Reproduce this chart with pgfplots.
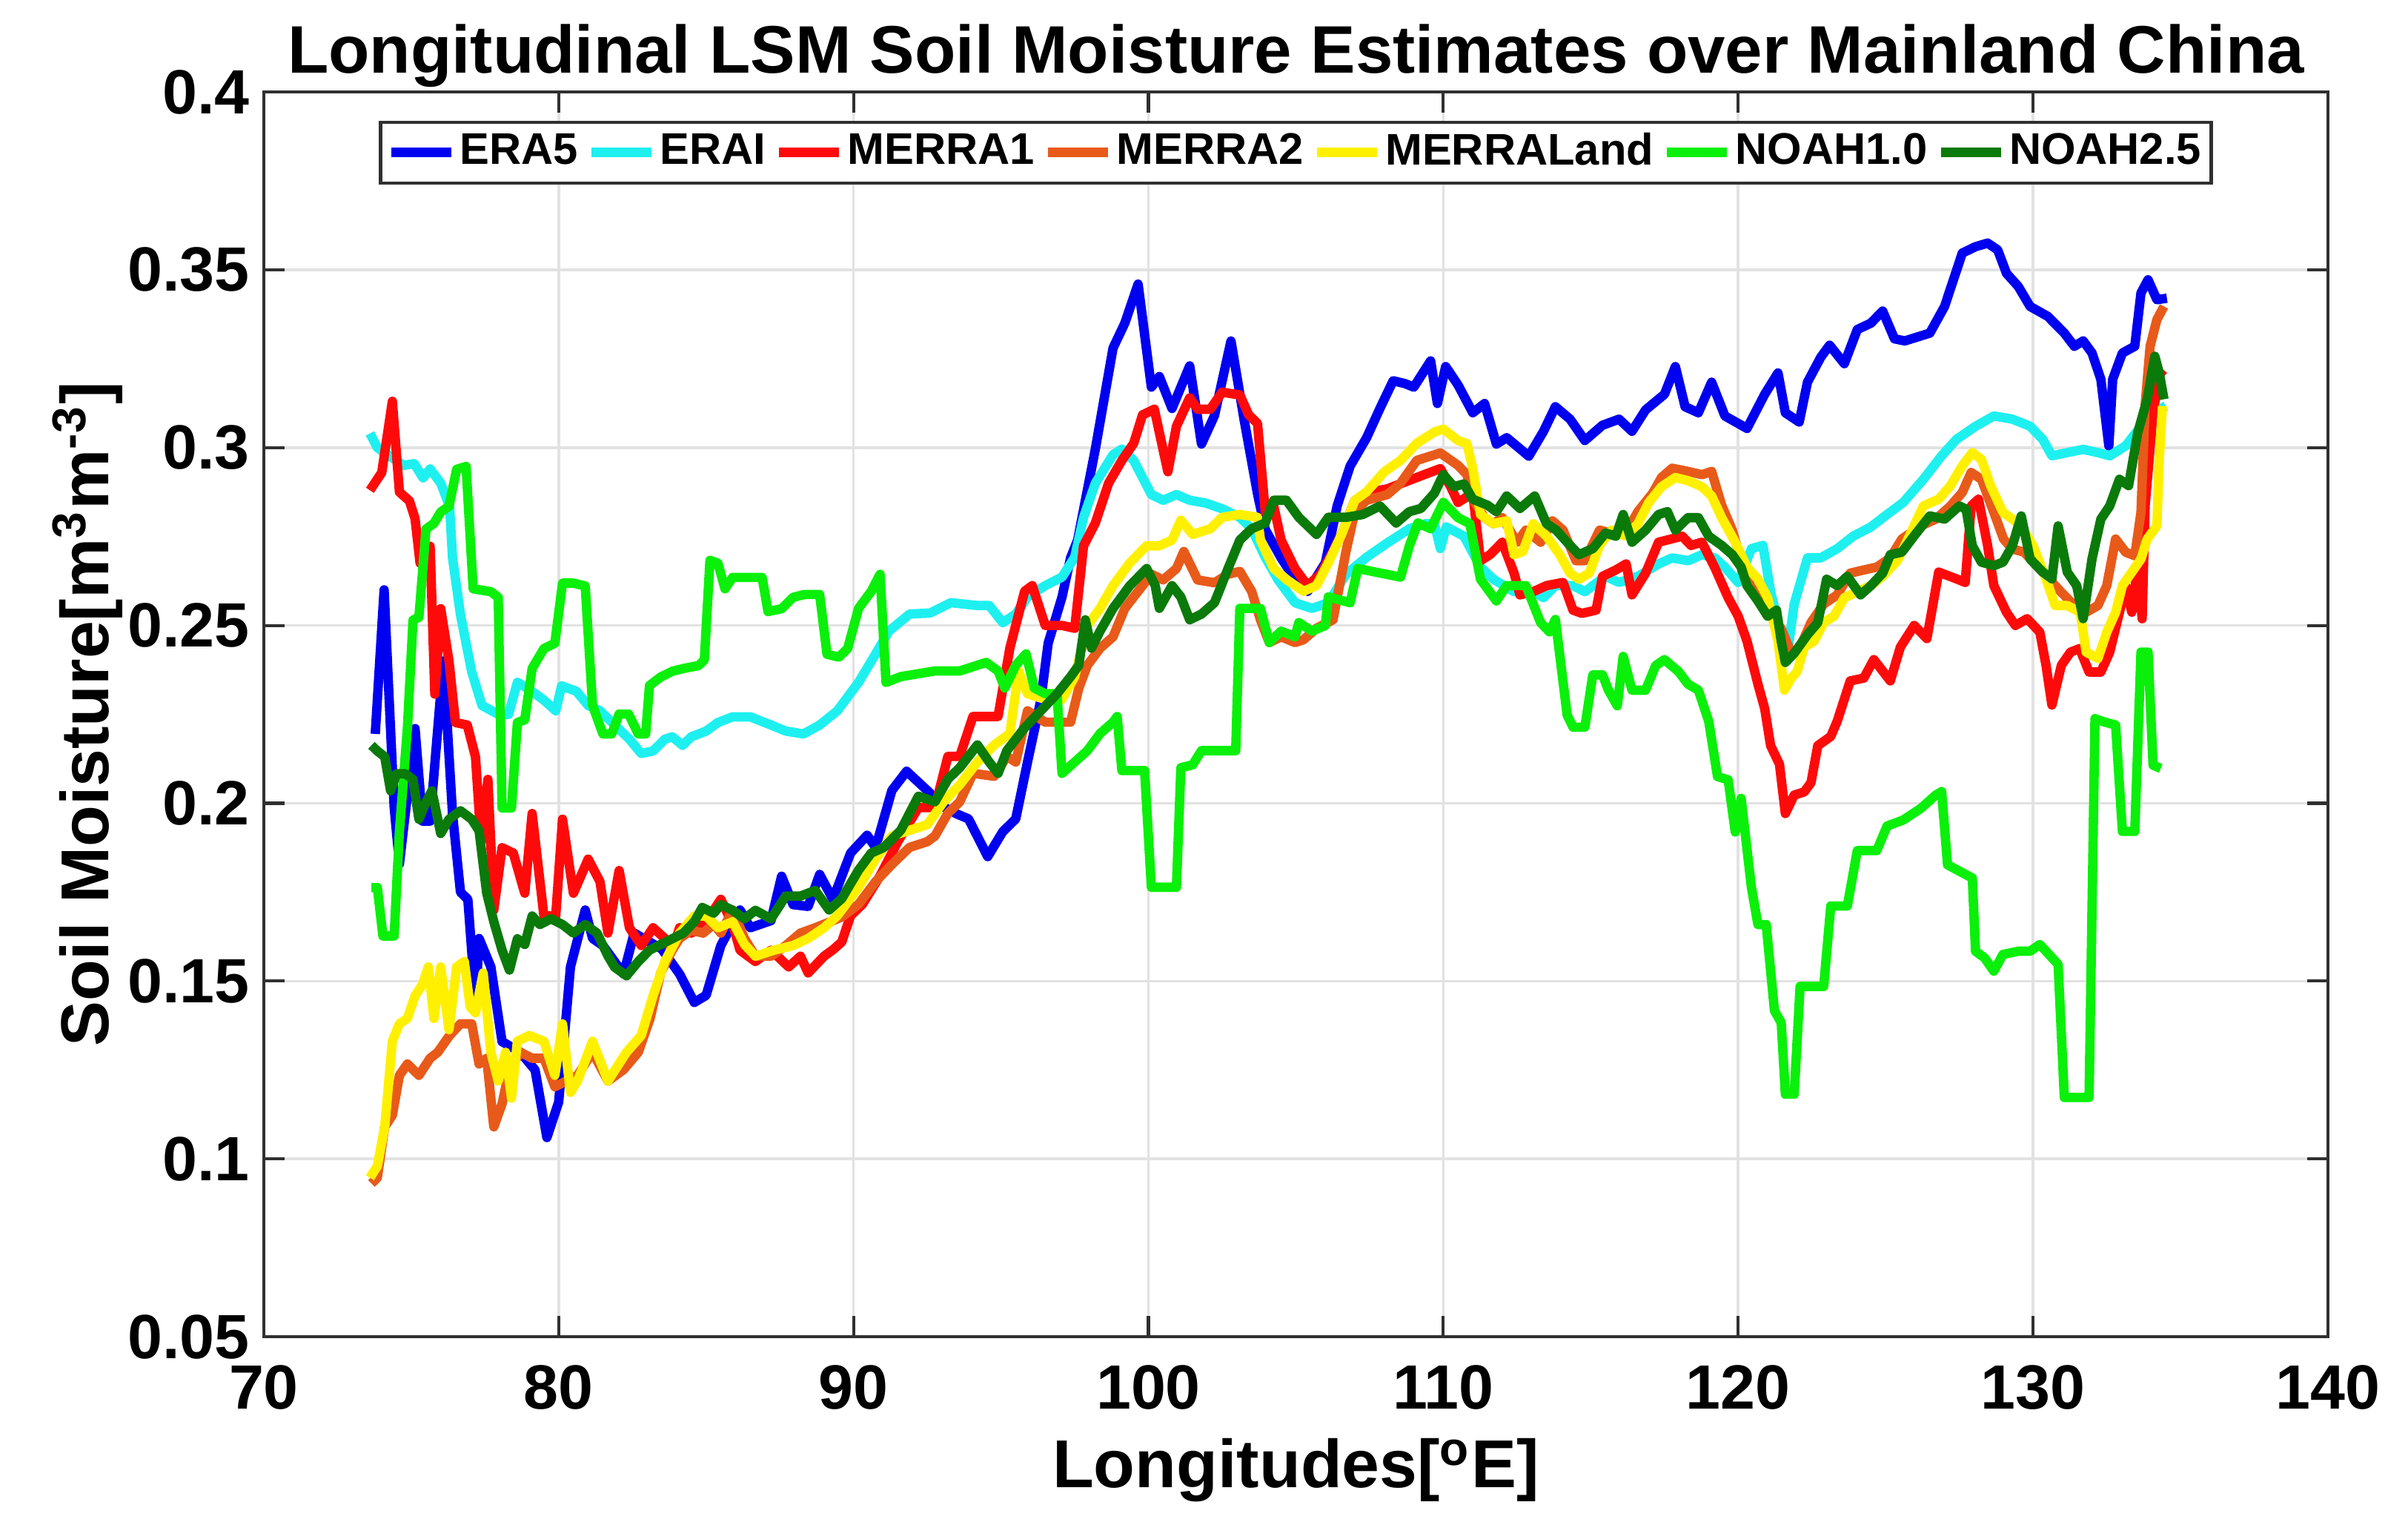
\documentclass[border=0pt]{standalone}
\usepackage{fontspec}
\setmainfont{Liberation Sans}
\usepackage{pgfplots}
\pgfplotsset{compat=1.18}
\definecolor{cEraFive}{HTML}{0000F0}
\definecolor{cEraI}{HTML}{1EF0F0}
\definecolor{cMerraOne}{HTML}{FF0A0A}
\definecolor{cMerraTwo}{HTML}{E85A1A}
\definecolor{cMerraLand}{HTML}{FFF000}
\definecolor{cNoahOne}{HTML}{0AF00A}
\definecolor{cNoahTwo}{HTML}{0A7A0A}
\definecolor{gridgray}{HTML}{E2E2E2}
\definecolor{axisgray}{HTML}{303030}

\begin{document}
\begin{tikzpicture}
\begin{axis}[
  width=13.925cm, height=8.395cm, scale only axis,
  xmin=70, xmax=140, ymin=0.05, ymax=0.4,
  xtick={70,80,90,100,110,120,130,140},
  xticklabels={70,80,90,100,110,120,130,140},
  ytick={0.05,0.1,0.15,0.2,0.25,0.3,0.35,0.4},
  yticklabels={0.05,0.1,0.15,0.2,0.25,0.3,0.35,0.4},
  tick align=inside, major tick length=0.14cm,
  grid=major, grid style={line width=0.5pt, gridgray},
  axis line style={line width=0.6pt, axisgray},
  tick style={line width=0.6pt, axisgray},
  ticklabel style={font=\fontsize{12}{13}\selectfont\bfseries},
  xticklabel style={yshift=-2pt},
  yticklabel style={xshift=0.8pt},
  xlabel={Longitudes[\textsuperscript{o}E]},
  xlabel style={font=\fontsize{13}{14}\selectfont\bfseries, at={(axis description cs:0.5,-0.1213)}, anchor=base},
  ylabel={Soil Moisture[m\textsuperscript{3}m\textsuperscript{-3}]},
  ylabel style={font=\fontsize{13}{14}\selectfont\bfseries, at={(axis description cs:-0.0752,0.5)}, anchor=base},
  every axis plot/.append style={line width=1.8pt, line join=round, no markers},
  legend columns=7,
  legend style={at={(0.5,0.977)}, anchor=north, draw=axisgray, line width=0.6pt,
    font=\fontsize{8.5}{9}\selectfont\bfseries, inner xsep=1.2pt, inner ysep=1pt,
    nodes={inner xsep=0.7pt, inner ysep=1pt},
    /tikz/every even column/.append style={column sep=1pt}},
  legend image code/.code={\draw[#1] (0cm,0cm) -- (0.405cm,0cm);},
]
% ERA5
\addplot[cEraFive] coordinates {
(73.78,0.2195)(74.08,0.260)(74.42,0.199)(74.6,0.183)(75.13,0.221)(75.38,0.195)(75.64,0.195)(76.09,0.240)(76.4,0.197)(76.67,0.175)(76.92,0.173)(77.18,0.144)(77.3,0.162)(77.7,0.154)(78.08,0.133)(78.7,0.130)(79.2,0.125)(79.6,0.106)(80.0,0.116)(80.4,0.154)(80.9,0.170)(81.15,0.162)(81.5,0.160)(82.2,0.152)(82.56,0.1635)(83.5,0.159)(84.1,0.152)(84.6,0.144)(85.0,0.146)(85.5,0.160)(86.15,0.170)(86.5,0.165)(87.2,0.167)(87.56,0.1795)(87.95,0.1715)(88.46,0.171)(88.85,0.180)(89.3,0.173)(89.9,0.186)(90.46,0.191)(90.75,0.1876)(91.3,0.2036)(91.8,0.209)(92.5,0.2036)(93.05,0.199)(93.5,0.197)(93.9,0.1956)(94.55,0.185)(95.06,0.192)(95.5,0.1956)(95.9,0.2116)(96.35,0.229)(96.6,0.245)(97.07,0.258)(97.36,0.269)(97.6,0.274)(98.2,0.2996)(98.8,0.328)(99.2,0.335)(99.65,0.346)(100.1,0.317)(100.37,0.320)(100.8,0.311)(101.4,0.323)(101.8,0.301)(102.24,0.309)(102.8,0.330)(103.25,0.3076)(103.7,0.287)(103.96,0.277)(104.5,0.269)(104.97,0.263)(105.4,0.2596)(106.0,0.2676)(106.4,0.2836)(106.84,0.2948)(107.4,0.3028)(107.85,0.311)(108.3,0.3188)(108.7,0.318)(109.0,0.317)(109.57,0.3244)(109.8,0.3124)(110.08,0.3228)(110.5,0.3176)(111.0,0.3098)(111.4,0.3124)(111.8,0.301)(112.15,0.3028)(112.9,0.2976)(113.4,0.3046)(113.8,0.3115)(114.3,0.308)(114.8,0.302)(115.4,0.3063)(115.96,0.308)(116.4,0.3046)(116.86,0.3106)(117.5,0.315)(117.87,0.3228)(118.2,0.3115)(118.65,0.3098)(119.1,0.3184)(119.55,0.3089)(120.3,0.3054)(120.9,0.315)(121.35,0.321)(121.6,0.3098)(122.07,0.3072)(122.35,0.3184)(122.8,0.3254)(123.1,0.3288)(123.6,0.3236)(124.04,0.3332)(124.5,0.335)(124.9,0.3384)(125.3,0.3306)(125.65,0.330)(126.5,0.3322)(127.0,0.3397)(127.6,0.3547)(128.05,0.3565)(128.46,0.3575)(128.8,0.3556)(129.1,0.349)(129.5,0.3453)(129.9,0.3397)(130.5,0.3369)(131.06,0.3322)(131.4,0.3285)(131.7,0.330)(132.0,0.3266)(132.3,0.3192)(132.57,0.3005)(132.7,0.3192)(133.03,0.3266)(133.45,0.3285)(133.66,0.3435)(133.9,0.3472)(134.2,0.3416)(134.54,0.342)
};
\addlegendentry{ERA5}
% ERAI
\addplot[cEraI] coordinates {
(73.6,0.304)(73.85,0.300)(74.2,0.298)(74.74,0.295)(75.1,0.2955)(75.4,0.2915)(75.64,0.294)(76.0,0.290)(76.3,0.2835)(76.4,0.269)(76.67,0.253)(77.05,0.237)(77.4,0.2275)(77.95,0.225)(78.3,0.225)(78.6,0.234)(79.0,0.232)(79.5,0.229)(79.9,0.226)(80.1,0.233)(80.6,0.2315)(81.0,0.2275)(81.4,0.226)(81.9,0.222)(82.4,0.218)(82.8,0.214)(83.2,0.2147)(83.6,0.218)(83.85,0.2187)(84.2,0.2163)(84.5,0.2187)(85.0,0.2203)(85.4,0.2227)(85.9,0.2243)(86.5,0.2243)(87.2,0.222)(87.7,0.2203)(88.3,0.2195)(88.85,0.222)(89.45,0.226)(90.17,0.234)(90.75,0.242)(91.2,0.2484)(91.9,0.2532)(92.6,0.2535)(93.3,0.2564)(94.2,0.2556)(94.6,0.2556)(95.06,0.2508)(95.5,0.2532)(95.9,0.258)(96.5,0.2612)(97.07,0.2636)(97.5,0.2692)(97.8,0.2804)(98.2,0.29)(98.8,0.298)(99.1,0.2996)(99.5,0.2964)(100.1,0.2868)(100.5,0.2852)(100.95,0.2868)(101.4,0.2852)(101.95,0.2844)(102.5,0.2828)(103.1,0.2804)(103.5,0.2772)(103.96,0.2692)(104.4,0.2628)(104.97,0.2564)(105.55,0.2548)(106.1,0.2564)(106.7,0.2644)(107.4,0.2692)(108.1,0.2732)(108.85,0.2772)(109.4,0.2786)(109.7,0.2786)(109.9,0.2716)(110.1,0.2777)(110.7,0.2751)(111.26,0.2664)(111.7,0.263)(112.4,0.2595)(113.05,0.2595)(113.4,0.2578)(113.8,0.2612)(114.4,0.2612)(114.8,0.2595)(115.5,0.2638)(115.96,0.2621)(116.6,0.2638)(117.3,0.2673)(117.76,0.269)(118.3,0.2682)(118.77,0.2699)(119.2,0.269)(119.55,0.2664)(120.0,0.2621)(120.45,0.2716)(120.84,0.2725)(121.1,0.2595)(121.46,0.2474)(121.7,0.2439)(121.9,0.256)(122.35,0.269)(122.8,0.269)(123.36,0.2716)(123.9,0.2751)(124.5,0.2777)(125.05,0.2812)(125.6,0.2846)(126.28,0.2911)(126.9,0.2977)(127.4,0.3023)(128.05,0.306)(128.67,0.3089)(129.3,0.308)(129.9,0.306)(130.33,0.3023)(130.64,0.2977)(131.16,0.2986)(131.7,0.2995)(132.2,0.2986)(132.6,0.2977)(133.14,0.3005)(133.66,0.306)(134.07,0.3098)(134.5,0.3117)
};
\addlegendentry{ERAI}
% MERRA1
\addplot[cMerraOne] coordinates {
(73.6,0.288)(74.0,0.293)(74.36,0.313)(74.6,0.2875)(74.94,0.285)(75.13,0.280)(75.3,0.2675)(75.64,0.2723)(75.8,0.2307)(76.0,0.2547)(76.28,0.240)(76.5,0.2227)(76.9,0.222)(77.18,0.213)(77.37,0.189)(77.6,0.2067)(77.8,0.170)(78.08,0.1875)(78.46,0.186)(78.85,0.1747)(79.1,0.1971)(79.5,0.1683)(79.9,0.1683)(80.13,0.1955)(80.5,0.1747)(81.0,0.1843)(81.4,0.178)(81.67,0.1635)(82.05,0.1811)(82.4,0.165)(82.8,0.160)(83.2,0.165)(83.6,0.162)(83.85,0.1587)(84.1,0.165)(84.5,0.1635)(85.0,0.1667)(85.5,0.173)(85.9,0.166)(86.15,0.1587)(86.67,0.1555)(87.2,0.1587)(87.8,0.154)(88.2,0.157)(88.46,0.1523)(89.0,0.157)(89.3,0.1588)(89.6,0.161)(89.9,0.1684)(90.3,0.1716)(90.9,0.1796)(91.5,0.1892)(92.2,0.1988)(92.76,0.1988)(93.2,0.2132)(93.6,0.2132)(94.05,0.2244)(94.9,0.2244)(95.3,0.2436)(95.8,0.2596)(96.06,0.2612)(96.5,0.25)(97.07,0.25)(97.5,0.2492)(97.8,0.2724)(98.2,0.2788)(98.65,0.29)(99.1,0.2964)(99.5,0.3012)(99.8,0.3092)(100.2,0.3108)(100.66,0.2932)(100.95,0.306)(101.4,0.314)(101.67,0.3108)(102.1,0.3108)(102.5,0.3156)(103.1,0.3148)(103.4,0.3092)(103.7,0.3068)(103.96,0.282)(104.25,0.2836)(104.5,0.274)(104.97,0.266)(105.4,0.2612)(105.83,0.2644)(106.26,0.2708)(106.55,0.2756)(107.0,0.2852)(107.56,0.2876)(108.1,0.2884)(108.85,0.2908)(109.35,0.2924)(109.9,0.2941)(110.25,0.289)(110.5,0.2846)(111.0,0.2872)(111.26,0.2682)(111.6,0.27)(112.0,0.2734)(112.4,0.2647)(112.6,0.2586)(113.05,0.2595)(113.5,0.2612)(114.06,0.2621)(114.4,0.2543)(114.7,0.2534)(115.18,0.2543)(115.4,0.2638)(115.85,0.2656)(116.2,0.2673)(116.4,0.2586)(116.86,0.2647)(117.3,0.2734)(118.1,0.2751)(118.4,0.2725)(118.77,0.2734)(119.2,0.2664)(119.66,0.2578)(120.0,0.2526)(120.3,0.2456)(120.67,0.2335)(120.9,0.2266)(121.1,0.2162)(121.4,0.211)(121.6,0.1971)(121.9,0.2023)(122.24,0.2032)(122.47,0.2058)(122.7,0.2162)(123.14,0.2188)(123.36,0.2231)(123.8,0.2344)(124.26,0.2352)(124.6,0.2404)(125.16,0.2344)(125.5,0.2439)(125.97,0.25)(126.4,0.2463)(126.8,0.265)(127.4,0.2631)(127.7,0.2621)(127.9,0.2836)(128.15,0.2855)(128.46,0.2724)(128.67,0.2612)(129.1,0.2537)(129.4,0.25)(129.8,0.2519)(130.23,0.2481)(130.44,0.2388)(130.64,0.2276)(130.96,0.2388)(131.27,0.2425)(131.58,0.2435)(131.9,0.2369)(132.3,0.2369)(132.6,0.2425)(132.93,0.2537)(133.14,0.2612)(133.35,0.2537)(133.55,0.2668)(133.7,0.2519)(133.8,0.2836)(134.07,0.3098)(134.3,0.321)(134.44,0.32)
};
\addlegendentry{MERRA1}
% MERRA2
\addplot[cMerraTwo] coordinates {
(73.65,0.0931)(73.85,0.0947)(74.1,0.109)(74.36,0.1123)(74.6,0.1235)(74.87,0.1267)(75.26,0.1235)(75.64,0.1283)(75.9,0.130)(76.3,0.1347)(76.67,0.138)(77.05,0.138)(77.3,0.1267)(77.56,0.1283)(77.8,0.109)(78.08,0.1155)(78.33,0.1251)(78.7,0.130)(79.1,0.1283)(79.5,0.1283)(79.87,0.1203)(80.26,0.1219)(80.64,0.1235)(81.15,0.130)(81.67,0.1219)(82.2,0.1251)(82.7,0.130)(83.1,0.1395)(83.46,0.1523)(83.85,0.1587)(84.1,0.162)(84.5,0.1643)(84.9,0.1635)(85.26,0.166)(85.5,0.1635)(85.9,0.17)(86.3,0.162)(86.67,0.157)(87.2,0.157)(87.7,0.160)(88.2,0.1635)(88.7,0.165)(89.6,0.168)(90.17,0.1716)(90.75,0.178)(91.3,0.1828)(91.9,0.1876)(92.5,0.1892)(92.76,0.1908)(93.2,0.1972)(93.6,0.2004)(94.05,0.2084)(94.77,0.2076)(95.2,0.2132)(95.5,0.2116)(95.9,0.226)(96.5,0.2228)(97.36,0.2228)(97.64,0.2324)(97.93,0.2388)(98.36,0.2436)(98.8,0.2468)(99.2,0.2548)(99.65,0.2596)(100.1,0.2644)(100.5,0.2628)(100.95,0.266)(101.2,0.2708)(101.67,0.2628)(102.24,0.262)(102.7,0.2644)(103.1,0.2652)(103.5,0.2596)(103.8,0.2516)(104.1,0.2452)(104.5,0.2468)(104.97,0.2452)(105.26,0.246)(105.7,0.2492)(106.26,0.2516)(106.7,0.2708)(107.0,0.282)(107.4,0.2852)(108.1,0.2868)(108.55,0.29)(109.1,0.2964)(109.9,0.2985)(110.5,0.295)(110.8,0.2924)(111.0,0.2855)(111.4,0.2803)(111.7,0.2786)(112.0,0.2803)(112.5,0.2734)(112.8,0.2768)(113.3,0.2734)(113.7,0.2794)(114.06,0.2768)(114.5,0.2682)(114.8,0.2682)(115.3,0.2768)(115.7,0.276)(116.3,0.2777)(116.6,0.282)(117.1,0.2872)(117.4,0.2916)(117.76,0.2942)(118.3,0.2933)(118.77,0.2924)(119.1,0.2933)(119.44,0.2838)(119.8,0.2768)(120.1,0.2682)(120.45,0.2604)(120.8,0.2595)(121.1,0.2526)(121.46,0.2491)(121.8,0.2422)(122.1,0.2439)(122.47,0.2508)(122.9,0.256)(123.36,0.2586)(123.8,0.2647)(124.26,0.2656)(124.7,0.2664)(125.16,0.269)(125.55,0.2743)(126.2,0.278)(126.7,0.2799)(127.2,0.2836)(127.6,0.2874)(127.9,0.293)(128.25,0.2911)(128.67,0.2818)(129.0,0.2743)(129.3,0.2715)(129.7,0.2706)(130.12,0.2668)(130.54,0.2631)(130.96,0.2593)(131.4,0.2556)(131.8,0.2537)(132.2,0.2556)(132.5,0.2612)(132.8,0.2743)(133.14,0.2706)(133.45,0.2696)(133.66,0.2818)(133.8,0.3117)(133.97,0.3285)(134.2,0.336)(134.44,0.3397)
};
\addlegendentry{MERRA2}
% MERRALand
\addplot[cMerraLand] coordinates {
(73.6,0.0947)(73.85,0.098)(74.1,0.109)(74.36,0.1331)(74.6,0.138)(74.87,0.1395)(75.13,0.1459)(75.38,0.149)(75.58,0.154)(75.77,0.1395)(76.0,0.154)(76.28,0.1363)(76.54,0.154)(76.8,0.1555)(77.0,0.1427)(77.18,0.1411)(77.44,0.1523)(77.7,0.130)(77.95,0.1219)(78.2,0.130)(78.4,0.1171)(78.6,0.1331)(79.0,0.1347)(79.5,0.1331)(79.87,0.1235)(80.13,0.138)(80.4,0.1187)(80.64,0.1219)(81.15,0.1331)(81.67,0.1219)(82.3,0.130)(82.8,0.1347)(83.2,0.1459)(83.6,0.1555)(84.1,0.1635)(84.6,0.1683)(85.0,0.1683)(85.4,0.165)(85.9,0.1667)(86.3,0.1603)(86.67,0.157)(87.3,0.1587)(87.95,0.160)(88.46,0.162)(89.0,0.165)(89.45,0.1684)(90.17,0.1764)(90.75,0.1844)(91.3,0.1908)(91.9,0.1924)(92.5,0.194)(93.05,0.2004)(93.6,0.2052)(94.2,0.2116)(94.77,0.2164)(95.3,0.2196)(95.6,0.2372)(95.9,0.2308)(96.5,0.2292)(97.07,0.2292)(97.5,0.2356)(97.93,0.25)(98.36,0.2548)(98.8,0.2612)(99.37,0.2676)(99.94,0.2724)(100.37,0.2724)(100.8,0.274)(101.1,0.2796)(101.5,0.2756)(102.1,0.2772)(102.5,0.2804)(103.1,0.2812)(103.7,0.2804)(103.8,0.274)(104.25,0.266)(104.7,0.2628)(105.26,0.2596)(105.7,0.2612)(106.1,0.2676)(106.55,0.2756)(107.0,0.2852)(107.4,0.2876)(108.0,0.2932)(108.55,0.2964)(109.1,0.3012)(109.7,0.3044)(110.0,0.3052)(110.5,0.302)(110.8,0.3011)(111.0,0.2942)(111.26,0.2812)(111.7,0.2786)(112.15,0.2794)(112.4,0.2699)(112.7,0.2708)(113.05,0.2786)(113.5,0.2751)(113.95,0.2699)(114.3,0.2647)(114.6,0.263)(114.95,0.2647)(115.3,0.2725)(115.7,0.2768)(116.2,0.2751)(116.6,0.2786)(116.97,0.2846)(117.4,0.289)(117.87,0.2916)(118.3,0.2907)(118.77,0.289)(119.1,0.2864)(119.44,0.2803)(119.9,0.2734)(120.3,0.2664)(120.67,0.263)(121.0,0.2578)(121.35,0.2456)(121.57,0.2318)(121.8,0.2352)(122.0,0.237)(122.24,0.2439)(122.58,0.2456)(122.9,0.2508)(123.25,0.2526)(123.6,0.2578)(124.04,0.2595)(124.5,0.2612)(124.9,0.2638)(125.4,0.2682)(125.76,0.2743)(126.28,0.2836)(126.8,0.2855)(127.2,0.2893)(127.6,0.2949)(127.94,0.2986)(128.25,0.2967)(128.56,0.2893)(128.98,0.2818)(129.3,0.2799)(129.6,0.278)(130.0,0.2724)(130.44,0.2631)(130.75,0.2556)(131.16,0.2556)(131.6,0.2537)(131.8,0.2425)(132.2,0.2407)(132.5,0.2481)(132.8,0.2537)(133.03,0.2612)(133.35,0.265)(133.66,0.2687)(133.87,0.2743)(134.2,0.278)(134.28,0.2967)(134.39,0.3117)
};
\addlegendentry{MERRALand}
% NOAH1.0
\addplot[cNoahOne] coordinates {
(73.65,0.1763)(73.85,0.1763)(74.04,0.1627)(74.42,0.1627)(74.6,0.1923)(74.87,0.2211)(75.06,0.2515)(75.26,0.2523)(75.5,0.2771)(75.77,0.2787)(76.0,0.2819)(76.28,0.2835)(76.54,0.2939)(76.86,0.2947)(77.1,0.2603)(77.7,0.2595)(77.95,0.2579)(78.08,0.1987)(78.4,0.1987)(78.6,0.2227)(78.85,0.2235)(79.1,0.2379)(79.5,0.2435)(79.87,0.245)(80.13,0.2619)(80.5,0.2619)(80.9,0.2611)(81.15,0.2275)(81.5,0.2195)(81.8,0.2195)(82.05,0.2251)(82.37,0.2251)(82.7,0.2195)(82.95,0.2195)(83.08,0.2331)(83.46,0.2355)(83.85,0.2371)(84.23,0.2379)(84.74,0.2387)(84.94,0.2403)(85.13,0.2683)(85.4,0.2675)(85.64,0.2603)(85.9,0.2635)(86.9,0.2635)(87.1,0.2539)(87.56,0.2547)(87.95,0.2579)(88.33,0.2587)(88.85,0.2587)(89.1,0.2419)(89.5,0.2411)(89.8,0.2435)(90.17,0.2548)(90.6,0.2596)(90.9,0.2644)(91.1,0.234)(91.6,0.2356)(92.76,0.2372)(93.6,0.2372)(94.5,0.2396)(94.9,0.2372)(95.13,0.2324)(95.5,0.2388)(95.85,0.242)(96.13,0.2324)(96.5,0.2308)(96.9,0.2308)(97.07,0.2084)(97.5,0.2116)(97.93,0.2148)(98.36,0.2196)(98.8,0.2228)(98.94,0.2244)(99.1,0.2092)(99.87,0.2092)(100.1,0.1764)(100.95,0.1764)(101.1,0.21)(101.5,0.2108)(101.8,0.2148)(102.96,0.2148)(103.1,0.2548)(103.8,0.2548)(104.1,0.2452)(104.5,0.2484)(104.97,0.2468)(105.1,0.2508)(105.55,0.2484)(106.0,0.25)(106.1,0.258)(106.84,0.2564)(107.1,0.266)(108.55,0.2636)(108.85,0.2724)(109.14,0.2788)(109.57,0.2772)(110.0,0.2846)(110.5,0.2803)(110.9,0.2786)(111.26,0.263)(111.8,0.2569)(112.15,0.2612)(112.8,0.2612)(113.3,0.2508)(113.6,0.2482)(113.8,0.2517)(114.2,0.2248)(114.4,0.2214)(114.8,0.2214)(115.07,0.2361)(115.4,0.2361)(115.6,0.2318)(115.9,0.2274)(116.1,0.2413)(116.4,0.2318)(116.86,0.2318)(117.2,0.2387)(117.5,0.2404)(117.98,0.237)(118.3,0.2335)(118.65,0.2318)(119.0,0.2231)(119.3,0.2075)(119.66,0.2066)(119.9,0.1919)(120.1,0.2014)(120.45,0.1763)(120.67,0.1659)(120.95,0.1659)(121.23,0.1417)(121.46,0.1383)(121.6,0.1182)(121.9,0.1182)(122.1,0.1485)(122.9,0.1485)(123.14,0.1711)(123.7,0.1711)(124.04,0.1867)(124.7,0.1867)(125.05,0.1936)(125.6,0.1953)(126.2,0.1986)(126.7,0.2023)(126.9,0.2033)(127.1,0.1827)(127.73,0.1799)(127.94,0.179)(128.05,0.1584)(128.36,0.1565)(128.67,0.1528)(128.98,0.1575)(129.5,0.1584)(129.9,0.1584)(130.23,0.1603)(130.44,0.1584)(130.85,0.1547)(131.06,0.1173)(131.9,0.1173)(132.1,0.2238)(132.4,0.2229)(132.8,0.222)(133.03,0.1921)(133.45,0.1921)(133.66,0.2425)(133.9,0.2425)(134.07,0.2107)(134.33,0.2098)
};
\addlegendentry{NOAH1.0}
% NOAH2.5
\addplot[cNoahTwo] coordinates {
(73.65,0.2163)(73.85,0.2147)(74.1,0.2131)(74.3,0.2035)(74.5,0.2083)(74.8,0.2083)(75.06,0.2067)(75.26,0.1955)(75.5,0.2003)(75.7,0.2035)(76.0,0.1915)(76.28,0.1955)(76.67,0.1979)(77.05,0.1955)(77.3,0.1923)(77.56,0.1747)(77.8,0.1667)(78.08,0.1587)(78.33,0.1531)(78.6,0.1619)(78.85,0.1603)(79.1,0.1683)(79.36,0.1659)(79.74,0.1675)(80.13,0.1659)(80.5,0.1635)(80.9,0.1659)(81.3,0.1635)(81.67,0.1571)(81.9,0.1539)(82.3,0.1515)(82.7,0.1555)(83.08,0.1587)(83.46,0.1603)(83.85,0.1619)(84.23,0.1635)(84.6,0.1667)(84.87,0.1707)(85.26,0.1691)(85.5,0.1715)(85.9,0.1699)(86.3,0.1675)(86.67,0.1699)(87.2,0.1675)(87.7,0.1739)(88.2,0.1739)(88.7,0.1755)(89.17,0.17)(89.6,0.1732)(90.17,0.1812)(90.6,0.186)(91.03,0.1876)(91.6,0.1924)(92.2,0.202)(92.76,0.2004)(93.2,0.2068)(93.6,0.21)(94.2,0.2164)(94.6,0.2116)(94.9,0.2084)(95.2,0.2148)(95.8,0.2212)(96.35,0.226)(96.9,0.2308)(97.36,0.2356)(97.64,0.2388)(97.86,0.2516)(98.07,0.2436)(98.36,0.2484)(98.8,0.2548)(99.37,0.2612)(99.94,0.266)(100.23,0.2612)(100.37,0.2548)(100.8,0.2612)(101.1,0.258)(101.4,0.2516)(101.8,0.2532)(102.24,0.2564)(102.7,0.266)(103.1,0.274)(103.5,0.2772)(103.96,0.2788)(104.25,0.2852)(104.68,0.2852)(105.1,0.2804)(105.7,0.2756)(106.1,0.2804)(106.7,0.2804)(107.27,0.2812)(107.85,0.2836)(108.4,0.2788)(108.85,0.282)(109.24,0.2829)(109.7,0.2872)(110.0,0.2924)(110.36,0.289)(110.7,0.2898)(111.0,0.2855)(111.5,0.2838)(111.8,0.282)(112.15,0.2864)(112.6,0.2829)(113.1,0.2864)(113.5,0.2786)(113.83,0.2768)(114.2,0.2734)(114.6,0.2699)(115.07,0.2716)(115.5,0.276)(115.85,0.2751)(116.1,0.2812)(116.4,0.2734)(116.86,0.2768)(117.3,0.2812)(117.6,0.282)(117.87,0.2768)(118.3,0.2803)(118.65,0.2803)(119.0,0.2751)(119.44,0.2725)(119.8,0.2699)(120.1,0.2664)(120.3,0.2612)(120.67,0.2569)(121.0,0.2526)(121.3,0.2543)(121.46,0.2456)(121.6,0.2396)(121.9,0.2422)(122.35,0.2474)(122.7,0.2508)(123.0,0.263)(123.36,0.2612)(123.7,0.2638)(124.15,0.2586)(124.5,0.2612)(124.9,0.2647)(125.16,0.2699)(125.55,0.2706)(125.97,0.2752)(126.5,0.2808)(127.0,0.2799)(127.5,0.2836)(127.73,0.2827)(127.94,0.2724)(128.25,0.2678)(128.67,0.2668)(128.98,0.2678)(129.3,0.2724)(129.6,0.2808)(129.9,0.2687)(130.33,0.265)(130.64,0.2631)(130.85,0.278)(131.16,0.265)(131.48,0.2612)(131.7,0.2519)(132.0,0.2687)(132.3,0.2799)(132.6,0.2836)(132.93,0.2911)(133.24,0.2893)(133.55,0.3042)(133.87,0.3136)(134.13,0.3257)(134.28,0.321)(134.44,0.3136)
};
\addlegendentry{NOAH2.5}
\coordinate (bbll) at (rel axis cs:-0.1278,-0.1507);
\coordinate (bbur) at (rel axis cs:1.0388,1.0739);
\coordinate (ttl) at (rel axis cs:0.5,1.0151);
\end{axis}
\node[anchor=base, font=\fontsize{12.9}{14}\selectfont\bfseries, inner sep=0pt] at (ttl)
  {Longitudinal LSM Soil Moisture Estimates over Mainland China};
\pgfresetboundingbox
\useasboundingbox (bbll) rectangle (bbur);
\end{tikzpicture}
\end{document}
